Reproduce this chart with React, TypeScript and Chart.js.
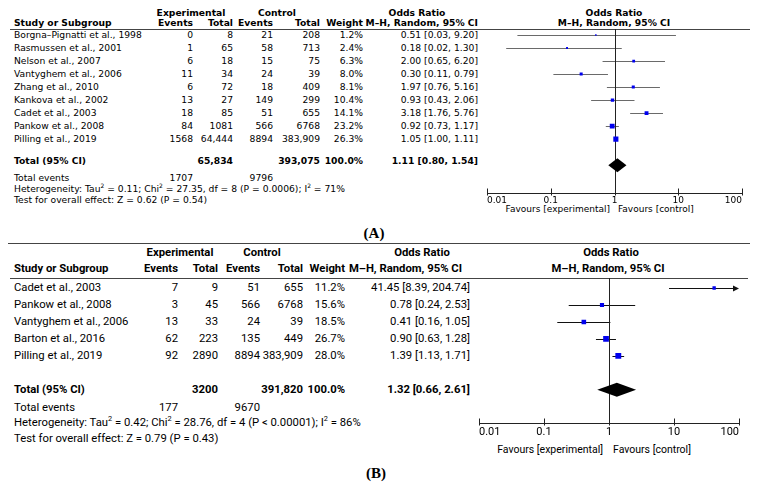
import React, { useEffect, useRef } from 'react';
import { Chart, registerables } from 'chart.js';
Chart.register(...registerables);

// ---------- Panel A data ----------
const studiesA = ['Borgna–Pignatti et al., 1998', 'Rasmussen et al., 2001', 'Nelson et al., 2007', 'Vantyghem et al., 2006', 'Zhang et al., 2010', 'Kankova et al., 2002', 'Cadet et al., 2003', 'Pankow et al., 2008', 'Pilling et al., 2019'];
const expEventsA = [0, 1, 6, 11, 6, 13, 18, 84, 1568];
const expTotalA = [8, 65, 18, 34, 72, 27, 85, 1081, 64444];
const ctrlEventsA = [21, 58, 15, 24, 18, 149, 51, 566, 8894];
const ctrlTotalA = [208, 713, 75, 39, 409, 299, 655, 6768, 383909];
const weightA = [1.2, 2.4, 6.3, 8.0, 8.1, 10.4, 14.1, 23.2, 26.3];
const orA = [0.51, 0.18, 2.0, 0.30, 1.97, 0.93, 3.18, 0.92, 1.05];
const loA = [0.03, 0.02, 0.65, 0.11, 0.76, 0.43, 1.76, 0.73, 1.0];
const hiA = [9.2, 1.3, 6.2, 0.79, 5.16, 2.06, 5.76, 1.17, 1.11];
const totalA = [1.11, 0.8, 1.54];
const hetA = { tau: '0.11', chi: '27.35', df: '8', p: 'P = 0.0006', i2: '71%' };
const testA = { z: '0.62', p: '0.54' };

// ---------- Panel B data ----------
const studiesB = ['Cadet et al., 2003', 'Pankow et al., 2008', 'Vantyghem et al., 2006', 'Barton et al., 2016', 'Pilling et al., 2019'];
const expEventsB = [7, 3, 13, 62, 92];
const expTotalB = [9, 45, 33, 223, 2890];
const ctrlEventsB = [51, 566, 24, 135, 8894];
const ctrlTotalB = [655, 6768, 39, 449, 383909];
const weightB = [11.2, 15.6, 18.5, 26.7, 28.0];
const orB = [41.45, 0.78, 0.41, 0.9, 1.39];
const loB = [8.39, 0.24, 0.16, 0.63, 1.13];
const hiB = [204.74, 2.53, 1.05, 1.28, 1.71];
const totalB = [1.32, 0.66, 2.61];
const hetB = { tau: '0.42', chi: '28.76', df: '4', p: 'P < 0.00001', i2: '86%' };
const testB = { z: '0.79', p: '0.43' };

const axisTicks = [0.01, 0.1, 1, 10, 100];
const tickLabels = ['0.01', '0.1', '1', '10', '100'];

const FA = '"DejaVu Sans", sans-serif';
const FB = 'Roboto, sans-serif';

const fmtN = (n: number) => (n >= 10000 ? n.toLocaleString('en-US') : String(n));
const sum = (a: number[]) => a.reduce((s, v) => s + v, 0);
const ci = (o: number, l: number, h: number) => `${o.toFixed(2)} [${l.toFixed(2)}, ${h.toFixed(2)}]`;

function T({ x, y, a = 'l', b = false, f, s, children }: any) {
  const tx = a === 'l' ? '0' : a === 'r' ? '-100%' : '-50%';
  return (
    <div
      style={{
        position: 'absolute', left: x, top: y - 7, height: 14, lineHeight: '14px',
        transform: `translateX(${tx})`, whiteSpace: 'nowrap', fontFamily: f, fontSize: s,
        fontWeight: b ? 700 : 400, color: '#000',
      }}
    >
      {children}
    </div>
  );
}

function HLine({ x1, x2, y, c = '#444' }: any) {
  return <div style={{ position: 'absolute', left: x1, top: y, width: x2 - x1, height: 1, background: c }} />;
}

const Sup = ({ children }: any) => (
  <sup style={{ fontSize: '0.65em', lineHeight: 0, verticalAlign: 'super' }}>{children}</sup>
);

function Forest(p: any) {
  const ref = useRef<HTMLCanvasElement>(null);
  useEffect(() => {
    const forestPlugin = {
      id: 'forest',
      beforeDatasetsDraw(chart: any) {
        const { ctx, chartArea: ca, scales } = chart;
        const x = scales.x, y = scales.y;
        ctx.save();
        ctx.lineWidth = 1;
        // confidence intervals
        p.lo.forEach((l: number, i: number) => {
          const py = Math.round(y.getPixelForValue(i)) + 0.5;
          const clipped = p.hi[i] > x.max;
          const x1 = x.getPixelForValue(Math.max(l, x.min));
          const x2 = x.getPixelForValue(Math.min(p.hi[i], x.max));
          ctx.strokeStyle = p.lineColor;
          ctx.beginPath();
          ctx.moveTo(x1, py);
          ctx.lineTo(clipped ? x2 - 4 : x2, py);
          ctx.stroke();
          if (clipped) {
            ctx.fillStyle = p.lineColor;
            ctx.beginPath();
            ctx.moveTo(x2, py);
            ctx.lineTo(x2 - 6, py - 3);
            ctx.lineTo(x2 - 6, py + 3);
            ctx.closePath();
            ctx.fill();
          }
        });
        // line of no effect
        const px1 = Math.round(x.getPixelForValue(1)) + 0.5;
        ctx.strokeStyle = '#222';
        ctx.beginPath();
        ctx.moveTo(px1, ca.top);
        ctx.lineTo(px1, ca.bottom);
        ctx.stroke();
        // axis line + tick marks
        const ay = Math.round(ca.bottom) + 0.5;
        ctx.beginPath();
        ctx.moveTo(ca.left, ay);
        ctx.lineTo(ca.right, ay);
        axisTicks.forEach((v) => {
          const tx = Math.round(x.getPixelForValue(v)) + 0.5;
          ctx.moveTo(tx, ay - 5);
          ctx.lineTo(tx, ay + 2);
        });
        ctx.stroke();
        // pooled diamond
        const [to, tl, th] = p.total;
        const dy = y.getPixelForValue(p.totalRow);
        ctx.fillStyle = '#000';
        ctx.beginPath();
        ctx.moveTo(x.getPixelForValue(tl), dy);
        ctx.lineTo(x.getPixelForValue(to), dy - p.dh);
        ctx.lineTo(x.getPixelForValue(th), dy);
        ctx.lineTo(x.getPixelForValue(to), dy + p.dh);
        ctx.closePath();
        ctx.fill();
        ctx.restore();
      },
    };
    const chart = new Chart(ref.current!, {
      type: 'scatter',
      data: {
        datasets: [
          {
            data: p.or.map((v: number, i: number) => ({ x: v, y: i })),
            pointStyle: 'rect',
            pointRadius: p.weight.map((w: number) => (p.ka * Math.sqrt(w) + p.kb) / Math.SQRT2),
            pointBackgroundColor: '#0000ee',
            pointBorderWidth: 0,
            showLine: false,
          },
        ],
      },
      options: {
        responsive: false,
        maintainAspectRatio: false,
        animation: false,
        devicePixelRatio: 1,
        events: [],
        layout: { padding: p.pad, autoPadding: false },
        plugins: { legend: { display: false }, tooltip: { enabled: false } },
        scales: {
          x: {
            type: 'logarithmic',
            min: 0.01,
            max: 100,
            afterBuildTicks: (s: any) => {
              s.ticks = axisTicks.map((v) => ({ value: v }));
            },
            ticks: {
              align: 'inner',
              autoSkip: false,
              maxRotation: 0,
              padding: p.tickPad,
              color: '#000',
              font: { family: p.tickFont, size: p.tickSize },
              callback: (_v: any, i: number) => tickLabels[i],
            },
            grid: { display: false, drawTicks: false },
            border: { display: false },
          },
          y: { type: 'linear', reverse: true, min: p.yMin, max: p.yMax, display: false },
        },
      },
      plugins: [forestPlugin],
    } as any);
    return () => chart.destroy();
  }, []);
  return (
    <canvas
      ref={ref}
      width={p.w}
      height={p.h}
      style={{ position: 'absolute', left: p.left, top: p.top, width: p.w, height: p.h, display: 'block' }}
    />
  );
}

export default function App() {
  const sA = 9.2;
  const sB = 11.3;
  const rowA = (i: number) => 35 + 13 * i;
  const rowB = (i: number) => 288 + 17 * i;
  return (
    <div style={{ position: 'absolute', left: 0, top: 0, width: 759, height: 490, background: '#fff', overflow: 'hidden' }}>
      {/* ---------------- Panel A ---------------- */}
      <T x={191} y={13} a="c" b f={FA} s={sA}>Experimental</T>
      <T x={277} y={13} a="c" b f={FA} s={sA}>Control</T>
      <T x={417} y={13} a="c" b f={FA} s={sA}>Odds Ratio</T>
      <T x={614} y={13} a="c" b f={FA} s={sA}>Odds Ratio</T>
      <T x={14} y={23} b f={FA} s={sA}>Study or Subgroup</T>
      <T x={193} y={23} a="r" b f={FA} s={sA}>Events</T>
      <T x={233} y={23} a="r" b f={FA} s={sA}>Total</T>
      <T x={273} y={23} a="r" b f={FA} s={sA}>Events</T>
      <T x={320} y={23} a="r" b f={FA} s={sA}>Total</T>
      <T x={363} y={23} a="r" b f={FA} s={sA}>Weight</T>
      <T x={478} y={23} a="r" b f={FA} s={sA}>M–H, Random, 95% CI</T>
      <T x={614} y={23} a="c" b f={FA} s={sA}>M–H, Random, 95% CI</T>
      <HLine x1={10} x2={750} y={29} />
      {studiesA.map((n, i) => (
        <React.Fragment key={'a' + i}>
          <T x={14} y={rowA(i)} f={FA} s={sA}>{n}</T>
          <T x={193} y={rowA(i)} a="r" f={FA} s={sA}>{fmtN(expEventsA[i])}</T>
          <T x={233} y={rowA(i)} a="r" f={FA} s={sA}>{fmtN(expTotalA[i])}</T>
          <T x={273} y={rowA(i)} a="r" f={FA} s={sA}>{fmtN(ctrlEventsA[i])}</T>
          <T x={320} y={rowA(i)} a="r" f={FA} s={sA}>{fmtN(ctrlTotalA[i])}</T>
          <T x={363} y={rowA(i)} a="r" f={FA} s={sA}>{weightA[i].toFixed(1)}%</T>
          <T x={478} y={rowA(i)} a="r" f={FA} s={sA}>{ci(orA[i], loA[i], hiA[i])}</T>
        </React.Fragment>
      ))}
      <T x={14} y={161} b f={FA} s={sA}>Total (95% CI)</T>
      <T x={233} y={161} a="r" b f={FA} s={sA}>{fmtN(sum(expTotalA))}</T>
      <T x={320} y={161} a="r" b f={FA} s={sA}>{fmtN(sum(ctrlTotalA))}</T>
      <T x={363} y={161} a="r" b f={FA} s={sA}>100.0%</T>
      <T x={478} y={161} a="r" b f={FA} s={sA}>{ci(totalA[0], totalA[1], totalA[2])}</T>
      <T x={14} y={178} f={FA} s={sA}>Total events</T>
      <T x={193} y={178} a="r" f={FA} s={sA}>{fmtN(sum(expEventsA))}</T>
      <T x={273} y={178} a="r" f={FA} s={sA}>{fmtN(sum(ctrlEventsA))}</T>
      <T x={14} y={189} f={FA} s={sA}>
        Heterogeneity: Tau<Sup>2</Sup> = {hetA.tau}; Chi<Sup>2</Sup> = {hetA.chi}, df = {hetA.df} ({hetA.p}); I<Sup>2</Sup> = {hetA.i2}
      </T>
      <T x={14} y={200} f={FA} s={sA}>Test for overall effect: Z = {testA.z} (P = {testA.p})</T>
      <T x={610} y={209} a="r" f={FA} s={9}>Favours [experimental]</T>
      <T x={618} y={209} f={FA} s={9}>Favours [control]</T>
      <Forest
        left={470} top={20} w={289} h={200}
        pad={{ left: 17, right: 17, top: 9, bottom: 12 }}
        or={orA} lo={loA} hi={hiA} weight={weightA} total={totalA} totalRow={10}
        yMin={-0.46} yMax={12.15} ka={0.9} kb={0.5} dh={7}
        lineColor="#6a6a6a" tickFont="DejaVu Sans" tickSize={9} tickPad={2}
      />
      <T x={374} y={233} a="c" b f='"Liberation Serif", serif' s={15}>(A)</T>

      {/* ---------------- Panel B ---------------- */}
      <HLine x1={8} x2={750} y={243} />
      <T x={180} y={253} a="c" b f={FB} s={sB}>Experimental</T>
      <T x={262} y={253} a="c" b f={FB} s={sB}>Control</T>
      <T x={422} y={253} a="c" b f={FB} s={sB}>Odds Ratio</T>
      <T x={611} y={253} a="c" b f={FB} s={sB}>Odds Ratio</T>
      <T x={14} y={269} b f={FB} s={sB}>Study or Subgroup</T>
      <T x={178} y={269} a="r" b f={FB} s={sB}>Events</T>
      <T x={218} y={269} a="r" b f={FB} s={sB}>Total</T>
      <T x={260} y={269} a="r" b f={FB} s={sB}>Events</T>
      <T x={303} y={269} a="r" b f={FB} s={sB}>Total</T>
      <T x={345} y={269} a="r" b f={FB} s={sB}>Weight</T>
      <T x={462} y={269} a="r" b f={FB} s={sB}>M–H, Random, 95% CI</T>
      <T x={608} y={269} a="c" b f={FB} s={sB}>M–H, Random, 95% CI</T>
      <HLine x1={10} x2={748} y={278} />
      {studiesB.map((n, i) => (
        <React.Fragment key={'b' + i}>
          <T x={14} y={rowB(i)} f={FB} s={sB}>{n}</T>
          <T x={178} y={rowB(i)} a="r" f={FB} s={sB}>{fmtN(expEventsB[i])}</T>
          <T x={218} y={rowB(i)} a="r" f={FB} s={sB}>{fmtN(expTotalB[i])}</T>
          <T x={260} y={rowB(i)} a="r" f={FB} s={sB}>{fmtN(ctrlEventsB[i])}</T>
          <T x={303} y={rowB(i)} a="r" f={FB} s={sB}>{fmtN(ctrlTotalB[i])}</T>
          <T x={345} y={rowB(i)} a="r" f={FB} s={sB}>{weightB[i].toFixed(1)}%</T>
          <T x={470} y={rowB(i)} a="r" f={FB} s={sB}>{ci(orB[i], loB[i], hiB[i])}</T>
        </React.Fragment>
      ))}
      <T x={14} y={390} b f={FB} s={sB}>Total (95% CI)</T>
      <T x={218} y={390} a="r" b f={FB} s={sB}>{fmtN(sum(expTotalB))}</T>
      <T x={303} y={390} a="r" b f={FB} s={sB}>{fmtN(sum(ctrlTotalB))}</T>
      <T x={345} y={390} a="r" b f={FB} s={sB}>100.0%</T>
      <T x={470} y={390} a="r" b f={FB} s={sB}>{ci(totalB[0], totalB[1], totalB[2])}</T>
      <T x={14} y={408} f={FB} s={sB}>Total events</T>
      <T x={178} y={408} a="r" f={FB} s={sB}>{fmtN(sum(expEventsB))}</T>
      <T x={260} y={408} a="r" f={FB} s={sB}>{fmtN(sum(ctrlEventsB))}</T>
      <T x={14} y={423} f={FB} s={sB}>
        Heterogeneity: Tau<Sup>2</Sup> = {hetB.tau}; Chi<Sup>2</Sup> = {hetB.chi}, df = {hetB.df} ({hetB.p}); I<Sup>2</Sup> = {hetB.i2}
      </T>
      <T x={14} y={439} f={FB} s={sB}>Test for overall effect: Z = {testB.z} (P = {testB.p})</T>
      <T x={603} y={450} a="r" f={FB} s={10.5}>Favours [experimental]</T>
      <T x={613} y={450} f={FB} s={10.5}>Favours [control]</T>
      <Forest
        left={462} top={270} w={297} h={200}
        pad={{ left: 17, right: 20, top: 8, bottom: 28 }}
        or={orB} lo={loB} hi={hiB} weight={weightB} total={totalB} totalRow={6}
        yMin={-0.59} yMax={7.94} ka={1.3} kb={-1} dh={7}
        lineColor="#111" tickFont="Roboto" tickSize={11} tickPad={3}
      />
      <T x={376} y={473} a="c" b f='"Liberation Serif", serif' s={15}>(B)</T>
    </div>
  );
}
